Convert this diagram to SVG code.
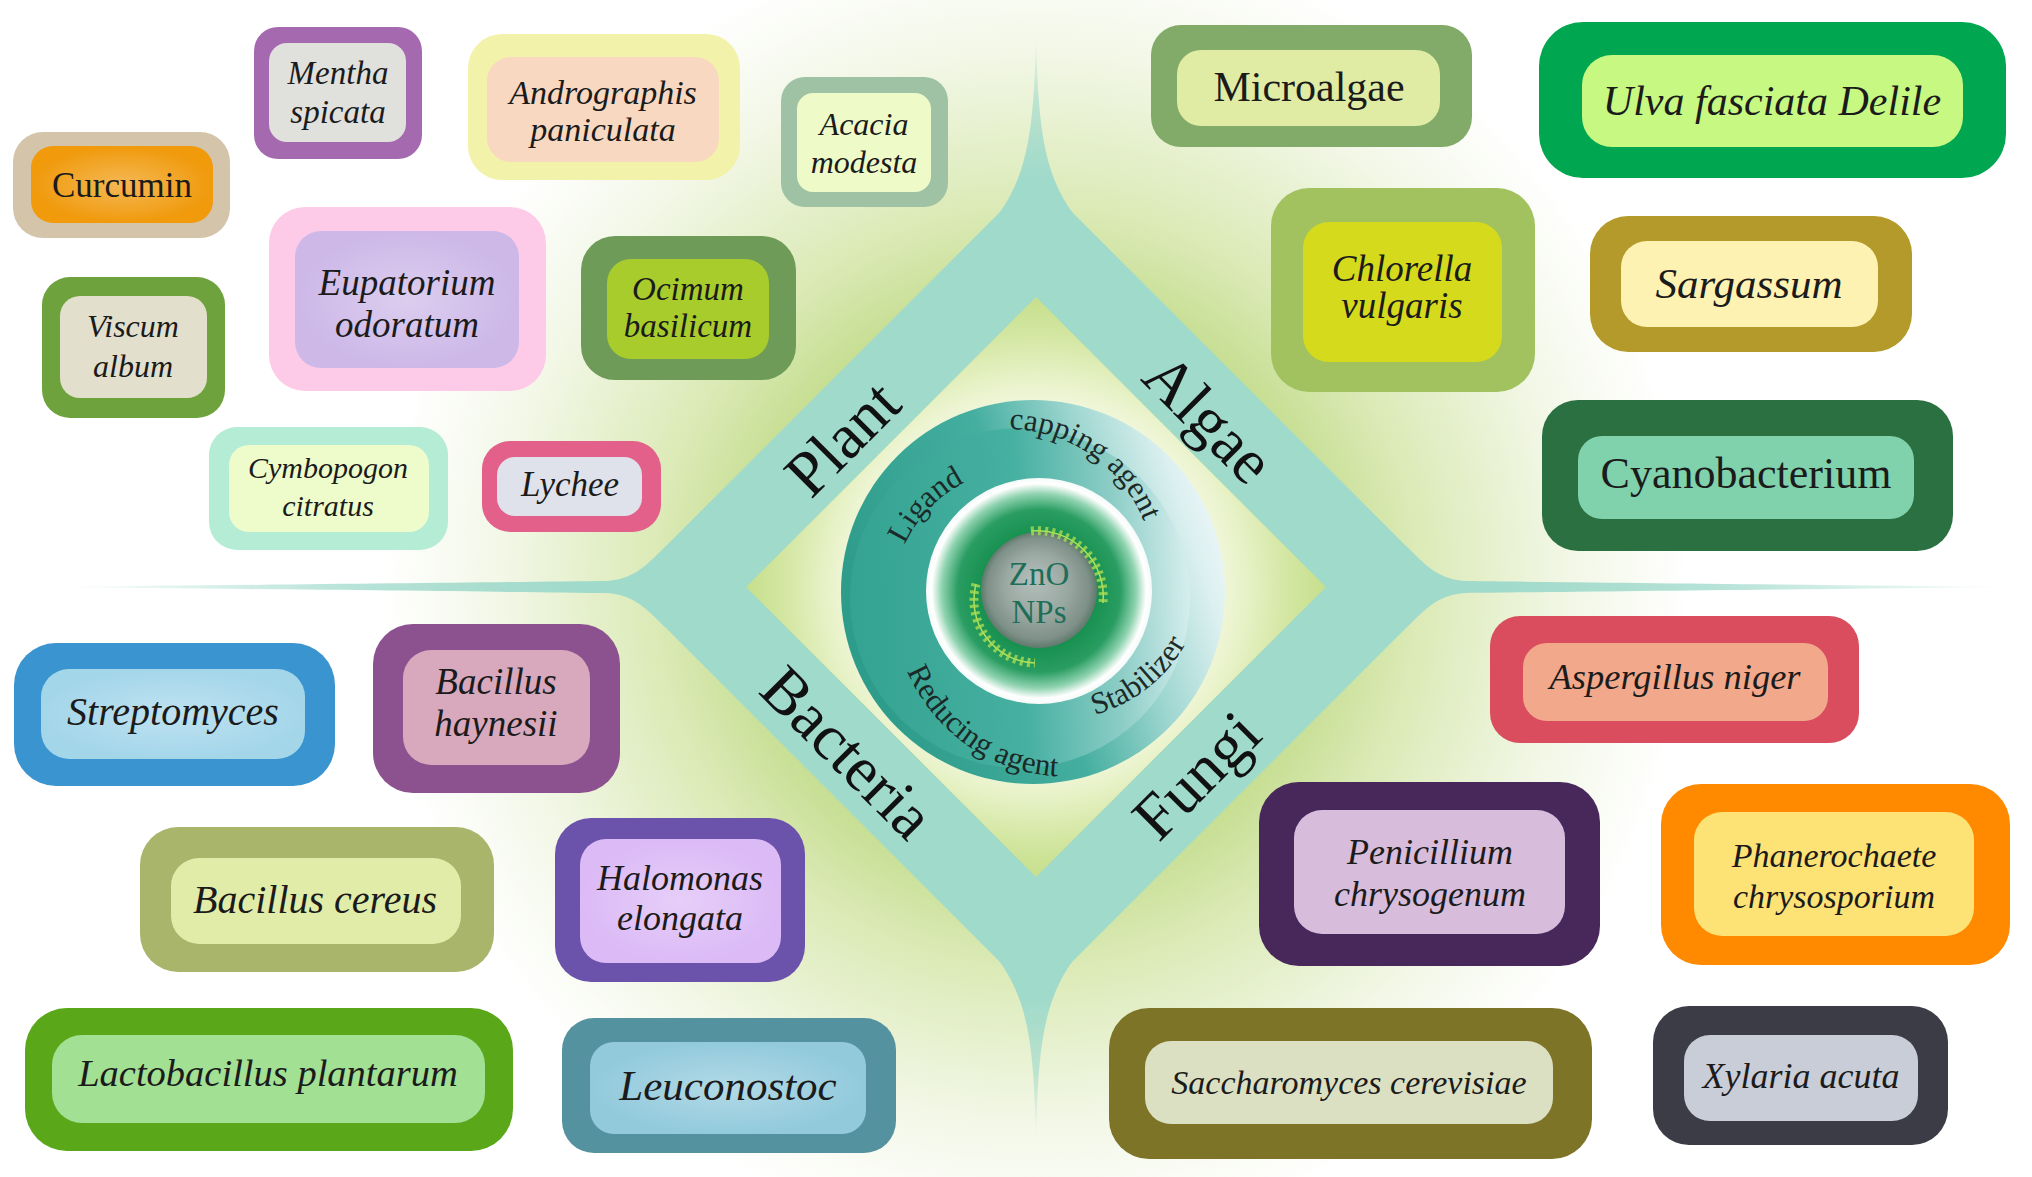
<svg xmlns="http://www.w3.org/2000/svg" width="2032" height="1177" viewBox="0 0 2032 1177">
<defs>
<style>
.t{font-family:"Liberation Serif","Times New Roman",serif;fill:#1b1b1b;text-anchor:middle;font-style:italic}
.up{font-style:normal}
.cat{font-family:"Liberation Serif","Times New Roman",serif;fill:#111;text-anchor:middle;font-size:64px}
.ring{font-family:"Liberation Serif","Times New Roman",serif;fill:#1b2a28;font-size:31px}
.zn{font-family:"Liberation Serif","Times New Roman",serif;fill:#1e6e58;text-anchor:middle;font-size:33px}
.stem{fill:none;stroke:#b4e060;stroke-width:1.5}
.leaf{fill:none;stroke:#a6dc52;stroke-width:9;stroke-dasharray:3 4;opacity:.8}
</style>
<radialGradient id="glow" gradientUnits="userSpaceOnUse" cx="1036" cy="587" r="760">
<stop offset="0" stop-color="#b8d67e"/><stop offset="0.38" stop-color="#c6de92"/><stop offset="0.5" stop-color="#dbeab6"/><stop offset="0.7" stop-color="#f2f7e6"/><stop offset="0.86" stop-color="#ffffff"/>
</radialGradient>
<radialGradient id="inner" gradientUnits="userSpaceOnUse" cx="1036" cy="587" r="290">
<stop offset="0" stop-color="#ffffff"/><stop offset="0.6" stop-color="#f4f8e2"/><stop offset="0.72" stop-color="#e8f2c8"/><stop offset="0.88" stop-color="#d2e6a0"/><stop offset="1" stop-color="#c6df8c"/>
</radialGradient>
<linearGradient id="spT" gradientUnits="userSpaceOnUse" x1="0" y1="33" x2="0" y2="215"><stop offset="0" stop-color="#a0dacb" stop-opacity="0"/><stop offset="0.35" stop-color="#a0dacb" stop-opacity="0.6"/><stop offset="0.8" stop-color="#a0dacb"/></linearGradient>
<linearGradient id="spB" gradientUnits="userSpaceOnUse" x1="0" y1="1141" x2="0" y2="959"><stop offset="0" stop-color="#a0dacb" stop-opacity="0"/><stop offset="0.35" stop-color="#a0dacb" stop-opacity="0.6"/><stop offset="0.8" stop-color="#a0dacb"/></linearGradient>
<linearGradient id="spL" gradientUnits="userSpaceOnUse" x1="50" y1="0" x2="640" y2="0"><stop offset="0" stop-color="#a0dacb" stop-opacity="0"/><stop offset="0.5" stop-color="#a0dacb" stop-opacity="0.75"/><stop offset="0.9" stop-color="#a0dacb"/></linearGradient>
<linearGradient id="spR" gradientUnits="userSpaceOnUse" x1="2022" y1="0" x2="1432" y2="0"><stop offset="0" stop-color="#a0dacb" stop-opacity="0"/><stop offset="0.5" stop-color="#a0dacb" stop-opacity="0.75"/><stop offset="0.9" stop-color="#a0dacb"/></linearGradient>
<linearGradient id="ringO" x1="0.05" y1="0.6" x2="1" y2="0.3">
<stop offset="0" stop-color="#2e9c8b"/><stop offset="0.45" stop-color="#44ae9f"/><stop offset="0.7" stop-color="#9ed6d0"/><stop offset="0.9" stop-color="#dcf0f0"/><stop offset="1" stop-color="#eef7f8"/>
</linearGradient>
<linearGradient id="ringI" x1="0" y1="0.5" x2="1" y2="0.45">
<stop offset="0" stop-color="#34a391"/><stop offset="0.5" stop-color="#46b0a1"/><stop offset="0.78" stop-color="#8ccdc6"/><stop offset="1" stop-color="#d6eeee"/>
</linearGradient>
<radialGradient id="core">
<stop offset="0" stop-color="#15864c"/><stop offset="0.5" stop-color="#16904f"/><stop offset="0.72" stop-color="#2a9d62"/><stop offset="0.86" stop-color="#8fd3b0"/><stop offset="0.95" stop-color="#ffffff"/><stop offset="1" stop-color="#f4fbf8"/>
</radialGradient>
<radialGradient id="sphere" fx="0.45" fy="0.4">
<stop offset="0" stop-color="#b4bfbb"/><stop offset="0.55" stop-color="#9aa8a2"/><stop offset="0.88" stop-color="#7e9088"/><stop offset="1" stop-color="#5f7a6c"/>
</radialGradient>
<radialGradient id="sh"><stop offset="0" stop-color="#fff" stop-opacity="0.3"/><stop offset="1" stop-color="#fff" stop-opacity="0"/></radialGradient>
<path id="pLig" d="M 897.1 637.7 A 133 133 0 0 1 1057.2 472"/>
<path id="pCap" d="M 913.2 464 A 146 146 0 0 1 1145.6 623.7"/>
<path id="pRed" d="M 903.9 544.3 A 173 173 0 0 0 1177.7 736"/>
<path id="pSta" d="M 975.5 697.2 A 150 150 0 0 0 1197.7 523.6"/>
</defs>

<rect width="2032" height="1177" fill="#ffffff"/>
<rect width="2032" height="1177" fill="url(#glow)"/>

<g id="hub">
<polygon points="1036,297 1326,587 1036,877 746,587" fill="url(#inner)"/>
<path d="M 1036 176 L 1447 587 L 1036 998 L 625 587 Z M 1036 297 L 1326 587 L 1036 877 L 746 587 Z" fill="#a0dacb" fill-rule="evenodd"/>
</g>

<g id="connectors">
<path d="M 1036 33 C 1038 120 1042 170 1072 212 L 1036 250 L 1000 212 C 1030 170 1034 120 1036 33 Z" fill="url(#spT)"/>
<path d="M 1036 1141 C 1038 1054 1042 1004 1072 962 L 1036 924 L 1000 962 C 1030 1004 1034 1054 1036 1141 Z" fill="url(#spB)"/>
<path d="M 50 587 C 250 585 520 582 605 581 C 632 580 645 567 665 547 L 700 587 L 665 627 C 645 607 632 594 605 593 C 520 592 250 589 50 587 Z" fill="url(#spL)"/>
<path d="M 2022 587 C 1822 585 1552 582 1467 581 C 1440 580 1427 567 1407 547 L 1372 587 L 1407 627 C 1427 607 1440 594 1467 593 C 1552 592 1822 589 2022 587 Z" fill="url(#spR)"/>
</g>

<g id="center">
<circle cx="1033" cy="592" r="192" fill="url(#ringO)"/>
<circle cx="1020" cy="598" r="170" fill="url(#ringI)"/>
<circle cx="1039" cy="591" r="113" fill="url(#core)"/>
<circle cx="1039" cy="590" r="58" fill="url(#sphere)"/>
<path class="stem" d="M 1031 531 A 66 66 0 0 1 1103 603"/>
<path class="leaf" d="M 1031 531 A 66 66 0 0 1 1103 603"/>
<path class="stem" d="M 976 584 A 63 63 0 0 0 1035 663"/>
<path class="leaf" d="M 976 584 A 63 63 0 0 0 1035 663"/>
<text class="zn" x="1039" y="585">ZnO</text>
<text class="zn" x="1039" y="623">NPs</text>
<text class="ring" text-anchor="middle"><textPath href="#pLig" startOffset="50%">Ligand</textPath></text>
<text class="ring" text-anchor="middle"><textPath href="#pCap" startOffset="50%">capping agent</textPath></text>
<text class="ring" text-anchor="middle"><textPath href="#pRed" startOffset="50%">Reducing agent</textPath></text>
<text class="ring" text-anchor="middle"><textPath href="#pSta" startOffset="50%">Stabilizer</textPath></text>
<text class="cat" transform="translate(842 438) rotate(-45)" y="22">Plant</text>
<text class="cat" transform="translate(1209 418) rotate(45)" y="22">Algae</text>
<text class="cat" transform="translate(848 752) rotate(45)" y="22">Bacteria</text>
<text class="cat" transform="translate(1196 775) rotate(-45)" y="22">Fungi</text>
</g>

<g id="n-curcumin"><rect x="13" y="132" width="217" height="106" rx="30" fill="#d3c4aa"/><rect x="31" y="146" width="182" height="77" rx="22" fill="#f09a0c"/><rect x="31" y="146" width="182" height="77" rx="22" fill="url(#sh)"/><text class="t up" x="122" y="197" font-size="35">Curcumin</text></g>
<g id="n-mentha"><rect x="254" y="27" width="168" height="132" rx="24" fill="#a569b0"/><rect x="269" y="43" width="137" height="99" rx="18" fill="#e0e0dc"/><text class="t" x="338" y="84" font-size="33">Mentha</text><text class="t" x="338" y="123" font-size="33">spicata</text></g>
<g id="n-andrographis"><rect x="468" y="34" width="272" height="146" rx="34" fill="#f2f2aa"/><rect x="487" y="57" width="232" height="105" rx="24" fill="#f8d8c0"/><text class="t" x="603" y="104" font-size="34">Andrographis</text><text class="t" x="603" y="141" font-size="34">paniculata</text></g>
<g id="n-acacia"><rect x="781" y="77" width="167" height="130" rx="24" fill="#9fc2a4"/><rect x="797" y="93" width="134" height="99" rx="16" fill="#eefac8"/><text class="t" x="864" y="135" font-size="32">Acacia</text><text class="t" x="864" y="173" font-size="32">modesta</text></g>
<g id="n-eupatorium"><rect x="269" y="207" width="277" height="184" rx="36" fill="#fdcbe8"/><rect x="295" y="231" width="224" height="137" rx="26" fill="#cdb8e8"/><rect x="295" y="231" width="224" height="137" rx="26" fill="url(#sh)"/><text class="t" x="407" y="295" font-size="37">Eupatorium</text><text class="t" x="407" y="337" font-size="37">odoratum</text></g>
<g id="n-ocimum"><rect x="581" y="236" width="215" height="144" rx="34" fill="#6f9b58"/><rect x="607" y="259" width="162" height="100" rx="24" fill="#a8cc2c"/><text class="t" x="688" y="300" font-size="33">Ocimum</text><text class="t" x="688" y="337" font-size="33">basilicum</text></g>
<g id="n-viscum"><rect x="42" y="277" width="183" height="141" rx="28" fill="#6ea23c"/><rect x="60" y="296" width="147" height="102" rx="20" fill="#e2e0cc"/><text class="t" x="133" y="337" font-size="32">Viscum</text><text class="t" x="133" y="377" font-size="32">album</text></g>
<g id="n-cymbopogon"><rect x="209" y="427" width="239" height="123" rx="28" fill="#b4ecd6"/><rect x="229" y="445" width="200" height="87" rx="20" fill="#eefbcb"/><text class="t" x="328" y="478" font-size="30">Cymbopogon</text><text class="t" x="328" y="516" font-size="30">citratus</text></g>
<g id="n-lychee"><rect x="482" y="441" width="179" height="91" rx="28" fill="#e2608a"/><rect x="497" y="457" width="145" height="59" rx="18" fill="#dfe2ea"/><text class="t" x="570" y="496" font-size="35">Lychee</text></g>

<g id="n-microalgae"><rect x="1151" y="25" width="321" height="122" rx="30" fill="#82aa68"/><rect x="1177" y="50" width="263" height="76" rx="24" fill="#e0eca4"/><text class="t up" x="1309" y="101" font-size="42">Microalgae</text></g>
<g id="n-ulva"><rect x="1539" y="22" width="467" height="156" rx="44" fill="#00a650"/><rect x="1582" y="55" width="381" height="92" rx="30" fill="#c6f882"/><text class="t" x="1772" y="115" font-size="42">Ulva fasciata Delile</text></g>
<g id="n-chlorella"><rect x="1271" y="188" width="264" height="204" rx="38" fill="#a2c260"/><rect x="1303" y="222" width="199" height="140" rx="26" fill="#d6da1c"/><text class="t" x="1402" y="281" font-size="37">Chlorella</text><text class="t" x="1402" y="318" font-size="37">vulgaris</text></g>
<g id="n-sargassum"><rect x="1590" y="216" width="322" height="136" rx="38" fill="#b39a2a"/><rect x="1621" y="241" width="257" height="86" rx="26" fill="#fdf2b2"/><text class="t" x="1749" y="298" font-size="43">Sargassum</text></g>
<g id="n-cyanobacterium"><rect x="1542" y="400" width="411" height="151" rx="36" fill="#2b7040"/><rect x="1578" y="436" width="336" height="83" rx="24" fill="#80d2ac"/><text class="t up" x="1746" y="488" font-size="44">Cyanobacterium</text></g>

<g id="n-streptomyces"><rect x="14" y="643" width="321" height="143" rx="42" fill="#3a94d0"/><rect x="41" y="669" width="264" height="90" rx="28" fill="#a4d6ea"/><rect x="41" y="669" width="264" height="90" rx="28" fill="url(#sh)"/><text class="t" x="173" y="725" font-size="40">Streptomyces</text></g>
<g id="n-haynesii"><rect x="373" y="624" width="247" height="169" rx="40" fill="#8c5290"/><rect x="403" y="650" width="187" height="115" rx="28" fill="#d8a8bc"/><text class="t" x="496" y="694" font-size="37">Bacillus</text><text class="t" x="496" y="736" font-size="37">haynesii</text></g>
<g id="n-cereus"><rect x="140" y="827" width="354" height="145" rx="38" fill="#a9b56a"/><rect x="171" y="858" width="290" height="86" rx="28" fill="#e0eca8"/><text class="t" x="315" y="913" font-size="40">Bacillus cereus</text></g>
<g id="n-halomonas"><rect x="555" y="818" width="250" height="164" rx="36" fill="#6b52aa"/><rect x="580" y="839" width="201" height="124" rx="26" fill="#dcbaf6"/><rect x="580" y="839" width="201" height="124" rx="26" fill="url(#sh)"/><text class="t" x="680" y="890" font-size="36">Halomonas</text><text class="t" x="680" y="930" font-size="36">elongata</text></g>
<g id="n-lactobacillus"><rect x="25" y="1008" width="488" height="143" rx="42" fill="#5aa81a"/><rect x="52" y="1035" width="433" height="88" rx="30" fill="#a2e094"/><text class="t" x="268" y="1086" font-size="38.5">Lactobacillus plantarum</text></g>
<g id="n-leuconostoc"><rect x="562" y="1018" width="334" height="135" rx="32" fill="#5592a0"/><rect x="590" y="1042" width="276" height="92" rx="24" fill="#92cadc"/><rect x="590" y="1042" width="276" height="92" rx="24" fill="url(#sh)"/><text class="t" x="728" y="1100" font-size="43">Leuconostoc</text></g>

<g id="n-aspergillus"><rect x="1490" y="616" width="369" height="127" rx="30" fill="#d94d5f"/><rect x="1523" y="643" width="305" height="78" rx="24" fill="#f2a88a"/><text class="t" x="1675" y="689" font-size="36.5">Aspergillus niger</text></g>
<g id="n-penicillium"><rect x="1259" y="782" width="341" height="184" rx="40" fill="#48285a"/><rect x="1294" y="810" width="271" height="124" rx="28" fill="#d8bcdc"/><text class="t" x="1430" y="864" font-size="36">Penicillium</text><text class="t" x="1430" y="906" font-size="36">chrysogenum</text></g>
<g id="n-phanerochaete"><rect x="1661" y="784" width="349" height="181" rx="40" fill="#ff8a00"/><rect x="1694" y="812" width="280" height="124" rx="28" fill="#fde276"/><text class="t" x="1834" y="867" font-size="34">Phanerochaete</text><text class="t" x="1834" y="908" font-size="34">chrysosporium</text></g>
<g id="n-saccharomyces"><rect x="1109" y="1008" width="483" height="151" rx="40" fill="#7d7428"/><rect x="1145" y="1041" width="408" height="83" rx="26" fill="#dce0c2"/><text class="t" x="1349" y="1094" font-size="34">Saccharomyces cerevisiae</text></g>
<g id="n-xylaria"><rect x="1653" y="1006" width="295" height="139" rx="36" fill="#3c3c46"/><rect x="1684" y="1035" width="234" height="86" rx="26" fill="#c9cdd8"/><text class="t" x="1801" y="1088" font-size="36">Xylaria acuta</text></g>
</svg>
